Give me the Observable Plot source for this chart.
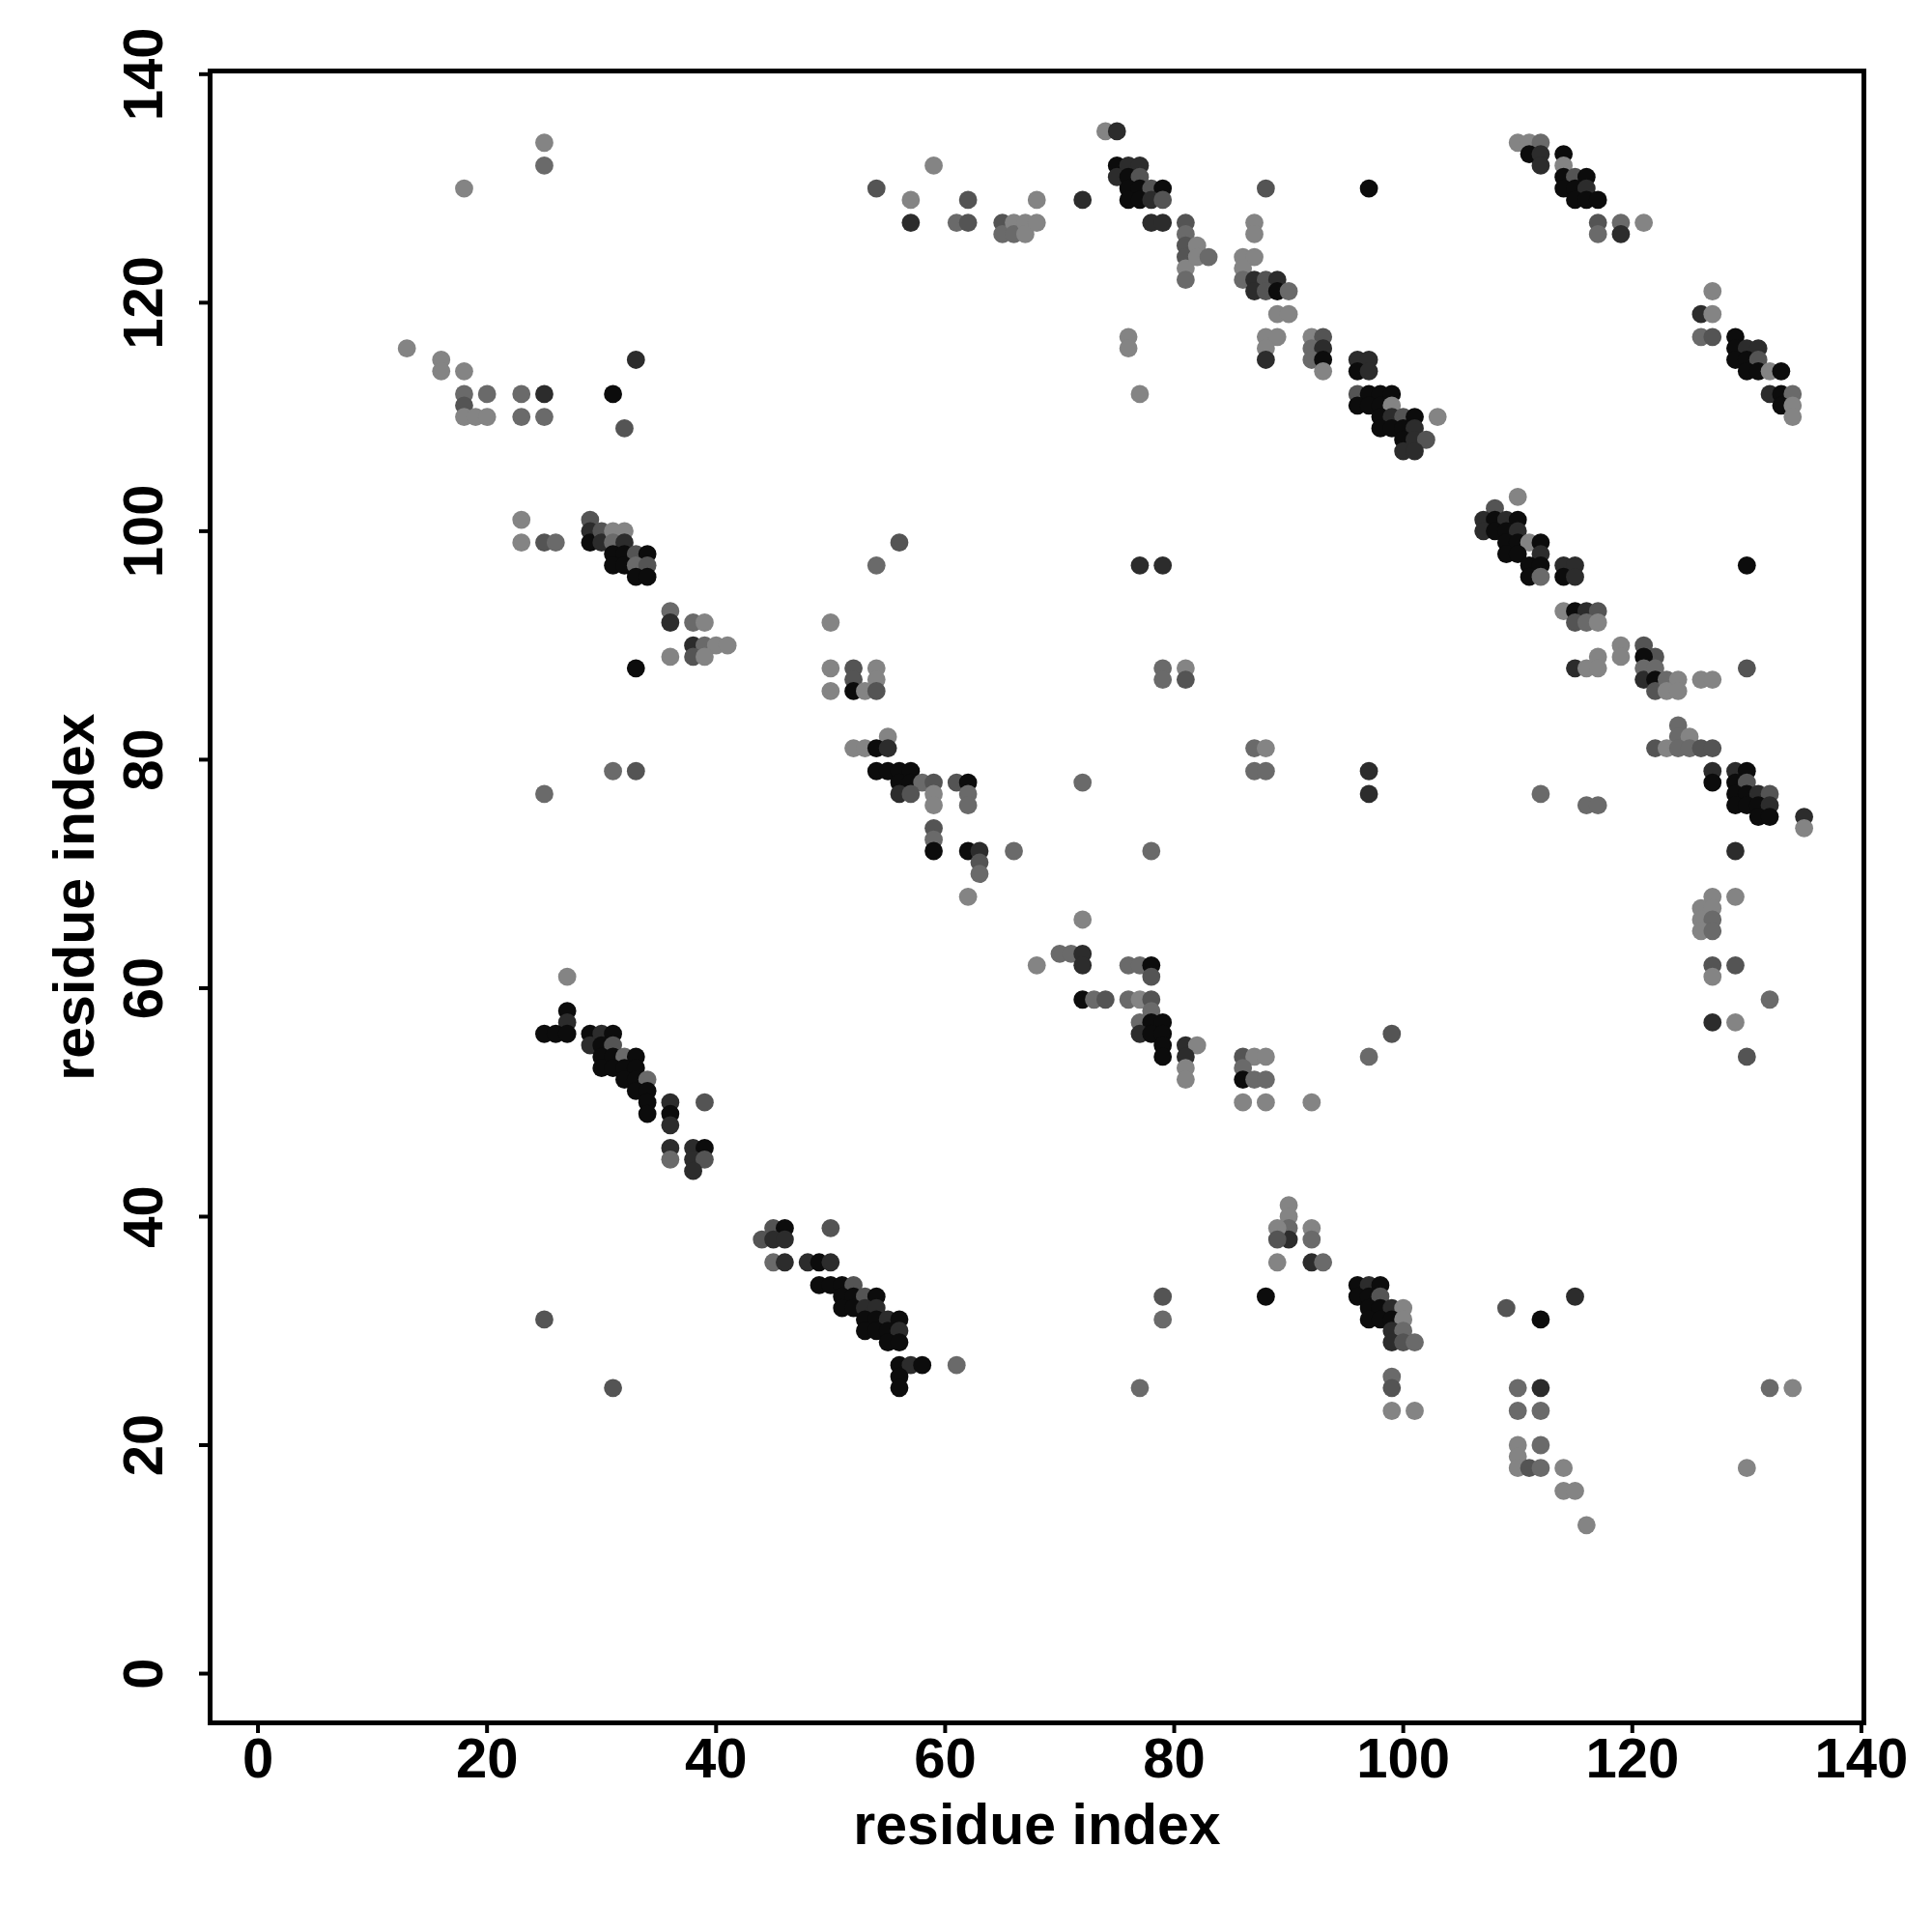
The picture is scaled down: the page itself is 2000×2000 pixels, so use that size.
<!DOCTYPE html>
<html>
<head>
<meta charset="utf-8">
<script src="https://cdn.jsdelivr.net/npm/d3@7"></script>
<script src="https://cdn.jsdelivr.net/npm/@observablehq/plot@0.6"></script>
<style>
  html, body { margin: 0; padding: 0; background: #fff; }
  #chart { width: 2000px; height: 2000px; }
</style>
</head>
<body>
<div id="chart"></div>
<script>
// Gray levels used for the points (0 = black)
const k = 12, d = 44, md = 84, m = 106, l = 132;

// Contact pairs: residue i (x), residue j (y), gray level
const contactX = [
  25,25,18,13,16,16,18,18,18,18,19,20,20,23,23,25,25,31,32,33,
  23,23,25,26,
  29,29,29,30,30,31,32,31,32,31,32,33,34,31,32,33,34,33,34,
  36,36,38,39,38,39,40,41,36,38,39,33,
  25,31,33,54,56,
  54,57,57,59,61,62,62,65,65,66,66,67,67,68,68,
  72,74,75,75,76,77,75,76,77,76,77,78,79,76,77,78,79,78,79,
  81,81,81,81,81,81,82,82,83,
  88,97,
  87,87,86,87,86,86,87,88,89,87,88,89,90,89,90,88,89,88,88,92,93,92,93,92,93,93,
  76,76,77,
  96,97,96,97,96,97,98,99,96,97,98,99,98,99,100,101,103,98,99,100,101,100,101,102,100,101,
  77,79,
  110,111,112,111,112,114,112,114,114,115,116,114,115,116,115,116,117,117,119,121,117,119,
  127,126,127,126,127,129,129,130,131,129,130,131,130,131,132,133,132,133,134,133,134,134,
  110,108,107,108,109,110,107,108,109,110,109,110,111,112,109,110,112,111,112,114,115,111,112,114,115,130,
  114,115,116,117,115,116,117,119,119,117,115,116,117,
  121,122,121,121,121,122,122,122,123,124,123,124,126,127,130,
  124,124,125,122,123,124,125,126,127,
  127,129,130,127,129,130,129,130,131,132,129,130,131,132,131,132,135,135,
  112,116,117,129,
  127,129,126,127,126,127,126,127,127,129,127,132,127,129,130,
  50,50,52,54,52,54,50,52,53,54,
  55,52,53,54,55,
  54,55,56,57,56,57,58,59,61,62,56,57,59,62,59,62,59,59,59,62,63,66,63,63,62,
  68,70,71,72,72,72,72,73,74,76,77,78,78,76,77,78,78,77,78,79,77,78,79,79,79,81,82,81,81,81,
  72,78,79,81,79,81,87,88,87,88,97,97,
  86,87,88,86,86,87,88,86,88,92,97,99,
  27,27,27,25,26,27,29,30,31,29,30,31,30,31,32,33,30,31,32,33,32,33,34,33,34,34,36,39,34,36,36,36,38,39,36,38,39,38,
  25,31,
  44,45,46,45,46,50,45,46,48,49,50,
  49,50,51,52,51,52,53,54,51,52,53,54,53,54,55,56,53,54,55,56,55,56,56,57,58,61,56,56,
  90,90,90,90,89,89,92,92,89,92,93,88,79,79,77,
  96,97,98,96,97,98,97,98,99,100,97,98,99,100,99,100,99,100,101,99,99,99,101,
  109,115,112,110,112,110,112,110,112,110,110,111,112,114,114,115,116,132,134,130
];
const contactY = [
  134,132,130,116,115,114,114,112,111,110,110,110,112,112,110,112,110,112,109,115,
  101,99,99,99,
  101,100,99,100,99,100,100,99,99,98,98,98,98,97,97,97,97,96,96,
  93,92,92,92,90,90,90,90,89,89,89,88,
  77,79,79,97,99,
  130,129,127,132,127,129,127,127,126,127,126,127,126,129,127,
  129,135,135,132,132,132,131,131,131,130,130,130,130,129,129,129,129,127,127,
  127,126,125,124,123,122,125,124,124,
  130,130,
  127,126,124,124,123,122,122,122,122,121,121,121,121,119,119,117,117,116,115,117,117,116,116,115,115,114,
  117,116,112,
  115,115,114,114,112,112,112,112,111,111,111,111,110,110,110,110,110,109,109,109,109,108,108,108,107,107,
  97,97,
  134,134,134,133,133,133,132,132,131,131,131,130,130,130,129,129,129,127,127,127,126,126,
  121,119,119,117,117,117,116,116,116,115,115,115,114,114,114,114,112,112,112,111,111,110,
  103,102,101,101,101,101,100,100,100,100,99,99,99,99,98,98,98,97,97,97,97,96,96,96,96,97,
  93,93,93,93,92,92,92,90,89,89,88,88,88,
  90,89,89,88,87,88,87,86,87,87,86,86,87,87,88,
  83,82,82,81,81,81,81,81,81,
  79,79,79,78,78,78,77,77,77,77,76,76,76,76,75,75,75,74,
  77,76,76,72,
  68,68,67,67,66,66,65,65,62,62,61,59,57,57,54,
  92,88,88,88,87,87,86,86,86,86,
  82,81,81,81,81,
  79,79,79,79,78,78,78,78,78,78,77,77,77,77,76,76,74,73,72,72,72,72,71,70,68,
  62,63,63,63,66,62,59,59,59,62,62,62,61,59,59,59,58,57,57,57,56,56,56,55,54,55,55,54,53,52,
  78,72,88,88,87,87,81,81,79,79,79,77,
  54,54,54,53,52,52,52,50,50,50,54,56,
  61,58,57,56,56,56,56,56,56,55,55,55,54,54,54,54,53,53,53,53,52,52,52,51,51,50,50,50,49,49,48,46,46,46,45,45,45,44,
  31,25,
  38,39,39,38,38,39,36,36,36,36,36,
  34,34,34,34,33,33,33,33,32,32,32,32,31,31,31,31,30,30,30,30,29,29,27,27,27,27,26,25,
  41,40,39,38,39,38,39,38,36,36,36,33,33,31,25,
  34,34,34,33,33,33,32,32,32,32,31,31,31,31,30,30,29,29,29,26,25,23,23,
  32,33,31,25,25,23,23,20,20,19,18,18,18,18,16,16,13,25,25,18
];
const contactGray = [
  l,m,l,l,l,l,l,m,md,l,l,l,m,m,m,d,m,k,md,d,
  l,l,md,m,
  md,d,k,md,d,l,l,m,d,k,k,md,k,k,k,m,md,k,k,
  m,d,m,l,d,m,l,l,l,md,l,k,
  m,m,md,m,md,
  md,l,d,l,m,md,md,md,m,l,m,l,l,l,l,
  d,l,d,k,d,d,d,k,md,k,k,md,k,k,k,d,md,d,d,
  md,m,md,md,l,m,l,l,m,
  md,k,
  l,l,l,l,l,m,d,md,d,d,md,k,m,l,l,l,l,l,d,l,md,m,d,m,k,l,
  l,l,l,
  d,d,k,d,md,k,k,k,k,k,k,l,k,d,md,k,l,k,k,k,d,k,d,md,d,d,
  d,d,
  l,l,m,k,d,k,d,l,k,md,k,k,k,d,k,k,k,md,m,l,m,d,
  l,d,l,m,md,k,k,d,d,k,k,md,k,k,l,k,d,k,m,k,l,l,
  l,md,d,k,d,k,d,k,k,d,k,k,l,k,k,k,d,k,k,d,d,k,m,k,d,k,
  l,k,d,md,md,m,l,l,l,l,d,l,l,
  md,md,k,m,d,m,k,md,m,l,l,l,l,l,md,
  m,m,l,md,l,m,m,md,md,
  d,d,k,k,k,md,k,k,d,md,k,k,k,d,k,k,d,l,
  m,m,m,d,
  l,l,l,l,l,m,l,m,md,md,l,m,d,l,md,
  l,l,md,l,md,l,l,k,l,md,
  l,l,l,k,d,
  k,k,k,k,k,k,m,md,md,k,d,md,l,m,l,m,md,m,k,k,d,m,md,m,l,
  l,m,m,d,l,d,k,m,md,m,m,k,md,m,l,md,m,m,k,k,d,k,k,k,k,d,l,d,l,l,
  m,m,m,l,m,md,m,l,m,m,d,d,
  md,l,l,m,k,m,m,l,l,l,m,md,
  l,k,d,k,k,k,k,d,k,d,k,md,k,k,m,k,k,k,k,k,k,k,m,k,k,k,d,md,k,k,d,d,d,k,m,d,md,d,
  md,md,
  md,md,k,d,d,md,m,d,d,k,d,
  k,k,k,md,k,k,md,k,k,k,d,d,k,k,d,k,k,k,k,d,k,k,k,d,k,m,k,k,
  l,l,m,d,l,md,l,m,l,d,m,k,md,m,m,
  k,d,k,k,k,md,k,k,d,l,k,k,k,l,d,m,d,md,m,m,md,l,l,
  md,d,k,m,d,m,m,l,m,l,l,md,m,l,l,l,l,m,l,l
];

const xTicks = [0, 20, 40, 60, 80, 100, 120, 140];
const yTicks = [0, 20, 40, 60, 80, 100, 120, 140];
const axisTitleX = "residue index";
const axisTitleY = "residue index";

const contacts = contactX.map((x, i) => ({x, y: contactY[i], g: contactGray[i]}));

const font = "'Liberation Sans', Arial, Helvetica, sans-serif";

const chart = Plot.plot({
  width: 2000,
  height: 2000,
  marginLeft: 217,
  marginRight: 71,
  marginTop: 73,
  marginBottom: 217,
  x: {domain: [-4.18, 140.22], axis: null},
  y: {domain: [-4.31, 140.28], axis: null},
  style: {fontFamily: font, background: "#fff", color: "#000", overflow: "visible"},
  marks: [
    Plot.dot(contacts, {
      x: "x", y: "y", r: 9.4,
      fill: d => `rgb(${d.g},${d.g},${d.g})`,
      stroke: "none"
    }),
    Plot.frame({stroke: "#000", strokeWidth: 5}),
    Plot.axisX({ticks: xTicks, anchor: "bottom", tickSize: 11, strokeWidth: 4, fill: "none", label: null}),
    Plot.axisY({ticks: yTicks, anchor: "left", tickSize: 11, strokeWidth: 4, fill: "none", label: null}),
    Plot.text(xTicks, {
      x: d => d, frameAnchor: "bottom", dy: 56, lineAnchor: "bottom",
      text: d => String(d), fontSize: 58, fontWeight: "bold", fill: "#000", textAnchor: "middle"
    }),
    Plot.text(yTicks, {
      y: d => d, frameAnchor: "left", dx: -50, rotate: -90, lineAnchor: "bottom",
      text: d => String(d), fontSize: 58, fontWeight: "bold", fill: "#000", textAnchor: "middle"
    }),
    Plot.text([axisTitleX], {
      frameAnchor: "bottom", dy: 125, lineAnchor: "bottom",
      text: d => d, fontSize: 59, fontWeight: "bold", fill: "#000", textAnchor: "middle"
    }),
    Plot.text([axisTitleY], {
      frameAnchor: "left", dx: -121, rotate: -90, lineAnchor: "bottom",
      text: d => d, fontSize: 59, fontWeight: "bold", fill: "#000", textAnchor: "middle"
    })
  ]
});
document.getElementById("chart").appendChild(chart);
</script>
</body>
</html>
